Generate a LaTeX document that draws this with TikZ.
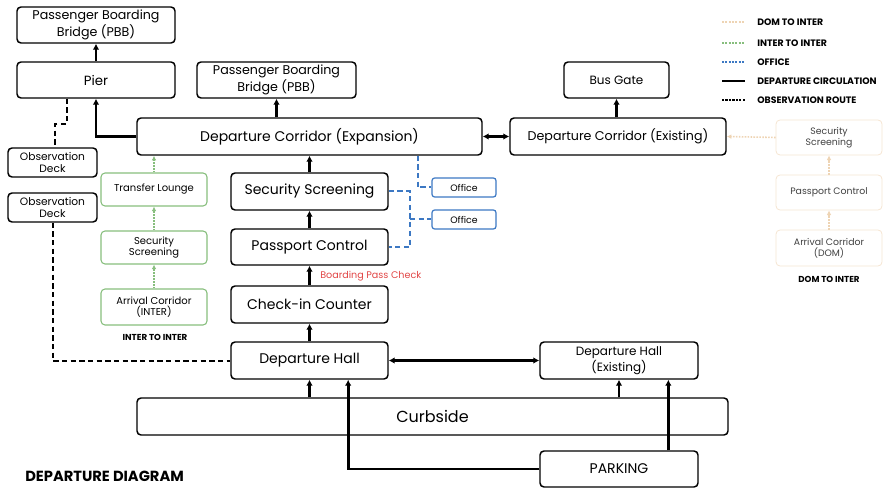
\documentclass[tikz,border=0pt]{standalone}
\usepackage{fontspec}
\setmainfont{Poppins}
\usepackage{xcolor}
\usepackage{tikz}
\usetikzlibrary{positioning,calc,arrows.meta}

\definecolor{intergreen}{RGB}{135,190,125}
\definecolor{officeblue}{RGB}{60,120,195}
\definecolor{domorange}{RGB}{238,212,180}
\definecolor{checkred}{RGB}{225,70,70}

\tikzset{
    box/.style={draw, rounded corners=3pt, line width=1.1pt, align=center, inner sep=0pt},
    sz/.style 2 args={minimum width=#1*0.75pt, minimum height=#2*0.75pt},
    greenbox/.style={draw=intergreen, rounded corners=3pt, line width=0.8pt, align=center, inner sep=0pt, font=\fontsize{7.5}{8.5}\selectfont},
    officebox/.style={draw=officeblue, rounded corners=2pt, line width=0.9pt, inner sep=0pt, font=\fontsize{7}{8}\selectfont},
    dombox/.style={draw=domorange!60, rounded corners=3pt, line width=0.6pt, align=center, inner sep=0pt, text=black!75, font=\fontsize{7}{8}\selectfont},
    flow/.style={line width=2pt, -{Latex[length=4.5pt,width=5pt]}},
    twoway/.style={line width=2pt, {Latex[length=4.5pt,width=5pt]}-{Latex[length=4.5pt,width=5pt]}},
    greenflow/.style={intergreen, line width=1.2pt, densely dotted, -{Latex[length=3.5pt,width=3.5pt]}},
    domflow/.style={domorange, line width=1.2pt, densely dotted, -{Latex[length=3.5pt,width=3.5pt]}},
    officeline/.style={officeblue, line width=1.5pt, dash pattern=on 4pt off 2.5pt},
    obsline/.style={line width=1.5pt, dash pattern=on 4pt off 2.5pt},
    legendtext/.style={anchor=west, inner sep=0pt, font=\bfseries\fontsize{7}{8}\selectfont},
    mainfont/.style={font=\fontsize{10.5}{12}\selectfont},
}

\begin{document}
\begin{tikzpicture}[x=0.75pt, y=-0.75pt]
    \useasboundingbox (0,0) rectangle (884,488);

    % pier side
    \node [box, sz={158}{36}, font=\fontsize{9.5}{10.5}\selectfont] (pbbpier) at (96,25) {Passenger Boarding\\Bridge (PBB)};
    \node [box, sz={158}{36}, font=\fontsize{10}{12}\selectfont] (pier) at (96,80) {Pier};
    \node [box, sz={89}{29}, font=\fontsize{8}{9}\selectfont] (obsa) at (52.5,162.5) {Observation\\Deck};
    \node [box, sz={89}{29}, font=\fontsize{8}{9}\selectfont] (obsb) at (52.5,207.5) {Observation\\Deck};

    % corridors
    \node [box, sz={159}{36}, font=\fontsize{9.5}{10.5}\selectfont] (pbbcor) at (276.5,80) {Passenger Boarding\\Bridge (PBB)};
    \node [box, sz={105}{36}, font=\fontsize{9}{10}\selectfont] (busgate) at (616.5,80) {Bus Gate};
    \node [box, sz={345}{37}, mainfont] (corexp) at (309.5,136.5) {Departure Corridor (Expansion)};
    \node [box, sz={216}{37}, font=\fontsize{9.5}{10.5}\selectfont] (corold) at (618,136.5) {Departure Corridor (Existing)};

    % main departure column
    \node [box, sz={157}{37}, mainfont] (secure) at (309.5,191.5) {Security Screening};
    \node [box, sz={157}{36}, mainfont] (passport) at (309.5,247) {Passport Control};
    \node [box, sz={157}{37}, mainfont] (checkin) at (309.5,304.5) {Check-in Counter};
    \node [box, sz={157}{37}, mainfont] (hall) at (309.5,360.5) {Departure Hall};
    \node [box, sz={158}{37}, font=\fontsize{9}{10}\selectfont] (hallold) at (619,360.5) {Departure Hall\\(Existing)};
    \node [box, sz={591}{37}, font=\fontsize{12}{14}\selectfont] (curb) at (432.5,416.5) {Curbside};
    \node [box, sz={158}{36}, font=\fontsize{10.5}{12}\selectfont] (parking) at (619,469) {PARKING};
    \node [anchor=west, inner sep=0pt, text=checkred, font=\fontsize{7.2}{8}\selectfont] (bpcheck) at (320,276) {Boarding Pass Check};

    % offices
    \node [officebox, sz={64}{19}] (officea) at (464,187.5) {Office};
    \node [officebox, sz={64}{19}] (officeb) at (464,219.5) {Office};

    % inter to inter
    \node [greenbox, sz={106}{33}] (lounge) at (154,189.5) {Transfer Lounge};
    \node [greenbox, sz={106}{33}] (securei) at (154,247.5) {Security\\Screening};
    \node [greenbox, sz={106}{36}] (arrivei) at (154,307) {Arrival Corridor\\(INTER)};
    \node [inner sep=0pt, font=\bfseries\fontsize{6.5}{7}\selectfont] (interlbl) at (155,337) {INTER TO INTER};

    % dom to inter
    \node [dombox, sz={106}{35}] (secured) at (829,137.5) {Security\\Screening};
    \node [dombox, sz={106}{35}] (passd) at (829,192.5) {Passport Control};
    \node [dombox, sz={106}{36}] (arrived) at (829,248) {Arrival Corridor\\(DOM)};
    \node [inner sep=0pt, font=\bfseries\fontsize{6.5}{7}\selectfont] (domlbl) at (829,279) {DOM TO INTER};

    \node [anchor=west, inner sep=0pt, font=\bfseries\fontsize{11}{13}\selectfont] (title) at (25,476) {DEPARTURE DIAGRAM};

    % departure circulation
    \draw [flow] (pier.north) -- (pbbpier.south);
    \draw [flow] (corexp.west) -| (pier.south);
    \draw [flow] (corexp.north -| pbbcor.south) -- (pbbcor.south);
    \draw [twoway] (corexp.east) -- (corold.west);
    \draw [flow] (corold.north -| busgate.south) -- (busgate.south);
    \draw [flow] (secure.north) -- (corexp.south);
    \draw [flow] (passport.north) -- (secure.south);
    \draw [flow] (checkin.north) -- (passport.south);
    \draw [flow] (hall.north) -- (checkin.south);
    \draw [twoway] (hall.east) -- (hallold.west);
    \draw [flow] (hall.south |- curb.north) -- (hall.south);
    \draw [flow] (hallold.south |- curb.north) -- (hallold.south);
    \draw [flow] (parking.west) -| ([xshift=29pt]hall.south);
    \draw [flow] ([xshift=37pt]parking.north) -- ([xshift=37pt]hallold.south);

    % observation route
    \coordinate (obsturn) at ([xshift=-22pt,yshift=-19pt]pier.south);
    \draw [obsline] ([xshift=-22pt]pier.south) -- (obsturn) -| ([xshift=2pt]obsa.north);
    \draw [obsline] (obsb.south) |- (hall.west);

    % office links
    \coordinate (offjoin) at ([xshift=16pt]secure.east);
    \draw [officeline] ([xshift=81pt]corexp.south) |- (officea.west);
    \draw [officeline] (secure.east) -- (offjoin) |- (passport.east);
    \draw [officeline] (offjoin |- officeb.west) -- (officeb.west);

    % inter to inter
    \draw [greenflow] (arrivei.north) -- (securei.south);
    \draw [greenflow] (securei.north) -- (lounge.south);
    \draw [greenflow] (lounge.north) -- (lounge.north |- corexp.south);

    % dom to inter
    \draw [domflow] (arrived.north) -- (passd.south);
    \draw [domflow] (passd.north) -- (secured.south);
    \draw [domflow] (secured.west) -- (corold.east);

    % legend
    \foreach \name/\txt/\yy in {dom/DOM TO INTER/22, inter/INTER TO INTER/43, office/OFFICE/62, circ/DEPARTURE CIRCULATION/81, obs/OBSERVATION ROUTE/100} {
        \coordinate (\name L) at (722,\yy);
        \coordinate (\name R) at (745,\yy);
        \node [legendtext] (\name txt) at (757,\yy) {\txt};
    }
    \draw [domorange, line width=1.5pt, densely dotted] (domL) -- (domR);
    \draw [intergreen, line width=1.5pt, densely dotted] (interL) -- (interR);
    \draw [officeblue, line width=1.5pt, densely dotted] (officeL) -- (officeR);
    \draw [line width=1.8pt] (circL) -- (circR);
    \draw [line width=1.6pt, densely dotted] (obsL) -- (obsR);
\end{tikzpicture}
\end{document}
